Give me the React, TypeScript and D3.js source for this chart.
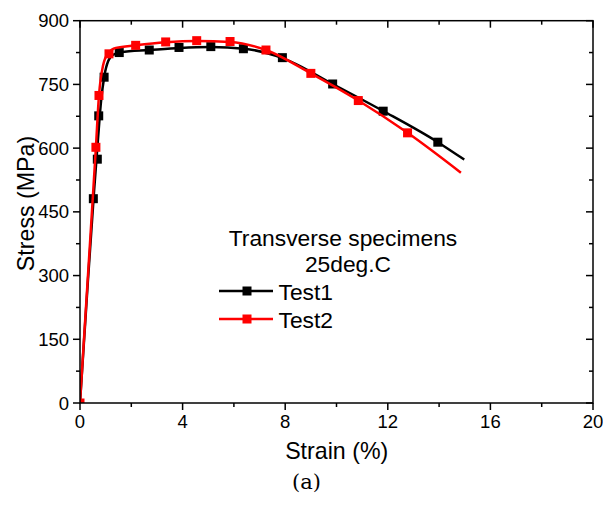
import React from "react";
import * as d3 from "d3";

const xTicks = [0, 4, 8, 12, 16, 20];
const xMinorTicks = [2, 6, 10, 14, 18];
const yTicks = [0, 150, 300, 450, 600, 750, 900];
const yMinorTicks = [75, 225, 375, 525, 675, 825];

// Test1 markers
const test1Strain = [0.52, 0.675, 0.73, 0.94, 1.53, 2.7, 3.86, 5.1, 6.37, 7.89, 9.85, 11.82, 13.95];
const test1Stress = [481, 574, 676, 767, 825, 831, 837, 839, 834, 813, 751, 687, 614];
// Test1 curve
const test1CurveStrain = [0, 0.3, 0.55, 0.7, 0.82, 0.95, 1.1, 1.3, 1.6, 2.7, 3.9, 5.1, 6.4, 7.9, 9.85, 11.8, 13.95, 14.98];
const test1CurveStress = [0, 280, 500, 620, 710, 770, 805, 820, 826, 831, 836, 838, 834, 812, 751, 688, 614, 573];

// Test2 markers
const test2Strain = [0, 0.62, 0.74, 1.13, 2.17, 3.34, 4.55, 5.85, 7.25, 9.0, 10.85, 12.77];
const test2Stress = [0, 602, 724, 822, 842, 850, 853, 851, 831, 776, 712, 636];
// Test2 curve
const test2CurveStrain = [0, 0.3, 0.62, 0.74, 0.9, 1.1, 1.4, 2.17, 3.34, 4.55, 5.85, 7.25, 9.0, 10.85, 12.77, 14.85];
const test2CurveStress = [0, 290, 602, 724, 795, 824, 836, 842, 849, 852, 850, 831, 776, 712, 636, 542];

const W = 603;
const H = 508;
const x0 = 80, x1 = 593, y0 = 403, y1 = 20.7;

export default function App() {
  const x = d3.scaleLinear().domain([0, 20]).range([x0, x1]);
  const y = d3.scaleLinear().domain([0, 900]).range([y0, y1]);
  const line = d3
    .line<[number, number]>()
    .x((d) => x(d[0]))
    .y((d) => y(d[1]))
    .curve(d3.curveMonotoneX);

  const c1 = test1CurveStrain.map((v, i) => [v, test1CurveStress[i]] as [number, number]);
  const c2 = test2CurveStrain.map((v, i) => [v, test2CurveStress[i]] as [number, number]);
  const m1 = test1Strain.map((v, i) => [v, test1Stress[i]]);
  const m2 = test2Strain.map((v, i) => [v, test2Stress[i]]);
  const ms = 9;
  const font = "'Liberation Sans', Arial, sans-serif";

  return (
    <svg width={W} height={H} style={{ position: "absolute", left: 0, top: 0, background: "#fff" }}>
      <rect x={0} y={0} width={W} height={H} fill="#fff" />
      <defs>
        <clipPath id="plotclip">
          <rect x={x0} y={y1} width={x1 - x0} height={y0 - y1} />
        </clipPath>
      </defs>
      {/* data */}
      <g clipPath="url(#plotclip)">
        <path d={line(c1) || ""} fill="none" stroke="#000" strokeWidth={2.5} />
        {m1.map((d, i) => (
          <rect key={"a" + i} x={x(d[0]) - ms / 2} y={y(d[1]) - ms / 2} width={ms} height={ms} fill="#000" />
        ))}
        <path d={line(c2) || ""} fill="none" stroke="#ff0000" strokeWidth={2.5} />
        {m2.map((d, i) => (
          <rect key={"b" + i} x={x(d[0]) - ms / 2} y={y(d[1]) - ms / 2} width={ms} height={ms} fill="#ff0000" />
        ))}
      </g>
      {/* frame */}
      <rect x={x0} y={y1} width={x1 - x0} height={y0 - y1} fill="none" stroke="#000" strokeWidth={1.5} />
      {/* bottom ticks (outward) */}
      {xTicks.map((t) => (
        <line key={"bx" + t} x1={x(t)} x2={x(t)} y1={y0} y2={y0 + 7} stroke="#000" strokeWidth={1.5} />
      ))}
      {xMinorTicks.map((t) => (
        <line key={"bxm" + t} x1={x(t)} x2={x(t)} y1={y0} y2={y0 + 4} stroke="#000" strokeWidth={1.5} />
      ))}
      {/* top ticks (inward) */}
      {xTicks.map((t) => (
        <line key={"tx" + t} x1={x(t)} x2={x(t)} y1={y1} y2={y1 + 7} stroke="#000" strokeWidth={1.5} />
      ))}
      {xMinorTicks.map((t) => (
        <line key={"txm" + t} x1={x(t)} x2={x(t)} y1={y1} y2={y1 + 4} stroke="#000" strokeWidth={1.5} />
      ))}
      {/* left ticks (outward) */}
      {yTicks.map((t) => (
        <line key={"ly" + t} x1={x0 - 7} x2={x0} y1={y(t)} y2={y(t)} stroke="#000" strokeWidth={1.5} />
      ))}
      {yMinorTicks.map((t) => (
        <line key={"lym" + t} x1={x0 - 4} x2={x0} y1={y(t)} y2={y(t)} stroke="#000" strokeWidth={1.5} />
      ))}
      {/* right ticks (inward) */}
      {yTicks.map((t) => (
        <line key={"ry" + t} x1={x1 - 7} x2={x1} y1={y(t)} y2={y(t)} stroke="#000" strokeWidth={1.5} />
      ))}
      {yMinorTicks.map((t) => (
        <line key={"rym" + t} x1={x1 - 4} x2={x1} y1={y(t)} y2={y(t)} stroke="#000" strokeWidth={1.5} />
      ))}
      {/* tick labels */}
      {xTicks.map((t) => (
        <text key={"xl" + t} x={x(t)} y={y0 + 25} textAnchor="middle" fontFamily={font} fontSize={18.5} fill="#000">
          {t}
        </text>
      ))}
      {yTicks.map((t) => (
        <text key={"yl" + t} x={x0 - 11} y={y(t) + 6.5} textAnchor="end" fontFamily={font} fontSize={18.5} fill="#000">
          {t}
        </text>
      ))}
      {/* axis titles */}
      <text x={336.7} y={458.5} textAnchor="middle" fontFamily={font} fontSize={23.2} fill="#000">
        Strain (%)
      </text>
      <text
        transform={`translate(${33.5},${203.5}) rotate(-90)`}
        textAnchor="middle"
        fontFamily={font}
        fontSize={23.2}
        fill="#000"
      >
        Stress (MPa)
      </text>
      {/* legend */}
      <text x={343} y={246} textAnchor="middle" fontFamily={font} fontSize={22.8} fill="#000">
        Transverse specimens
      </text>
      <text x={348} y={271.5} textAnchor="middle" fontFamily={font} fontSize={22.8} fill="#000">
        25deg.C
      </text>
      <line x1={219} x2={273} y1={291} y2={291} stroke="#000" strokeWidth={2.5} />
      <rect x={247 - ms / 2} y={291 - ms / 2} width={ms} height={ms} fill="#000" />
      <text x={278.5} y={299.5} fontFamily={font} fontSize={22.8} fill="#000">
        Test1
      </text>
      <line x1={219} x2={273} y1={319} y2={319} stroke="#ff0000" strokeWidth={2.5} />
      <rect x={247 - ms / 2} y={319 - ms / 2} width={ms} height={ms} fill="#ff0000" />
      <text x={278.5} y={327.5} fontFamily={font} fontSize={22.8} fill="#000">
        Test2
      </text>
      {/* caption */}
      <text x={306.5} y={489} textAnchor="middle" fontFamily="'DejaVu Serif', 'Liberation Serif', serif" fontSize={21} fill="#000">
        (a)
      </text>
    </svg>
  );
}
